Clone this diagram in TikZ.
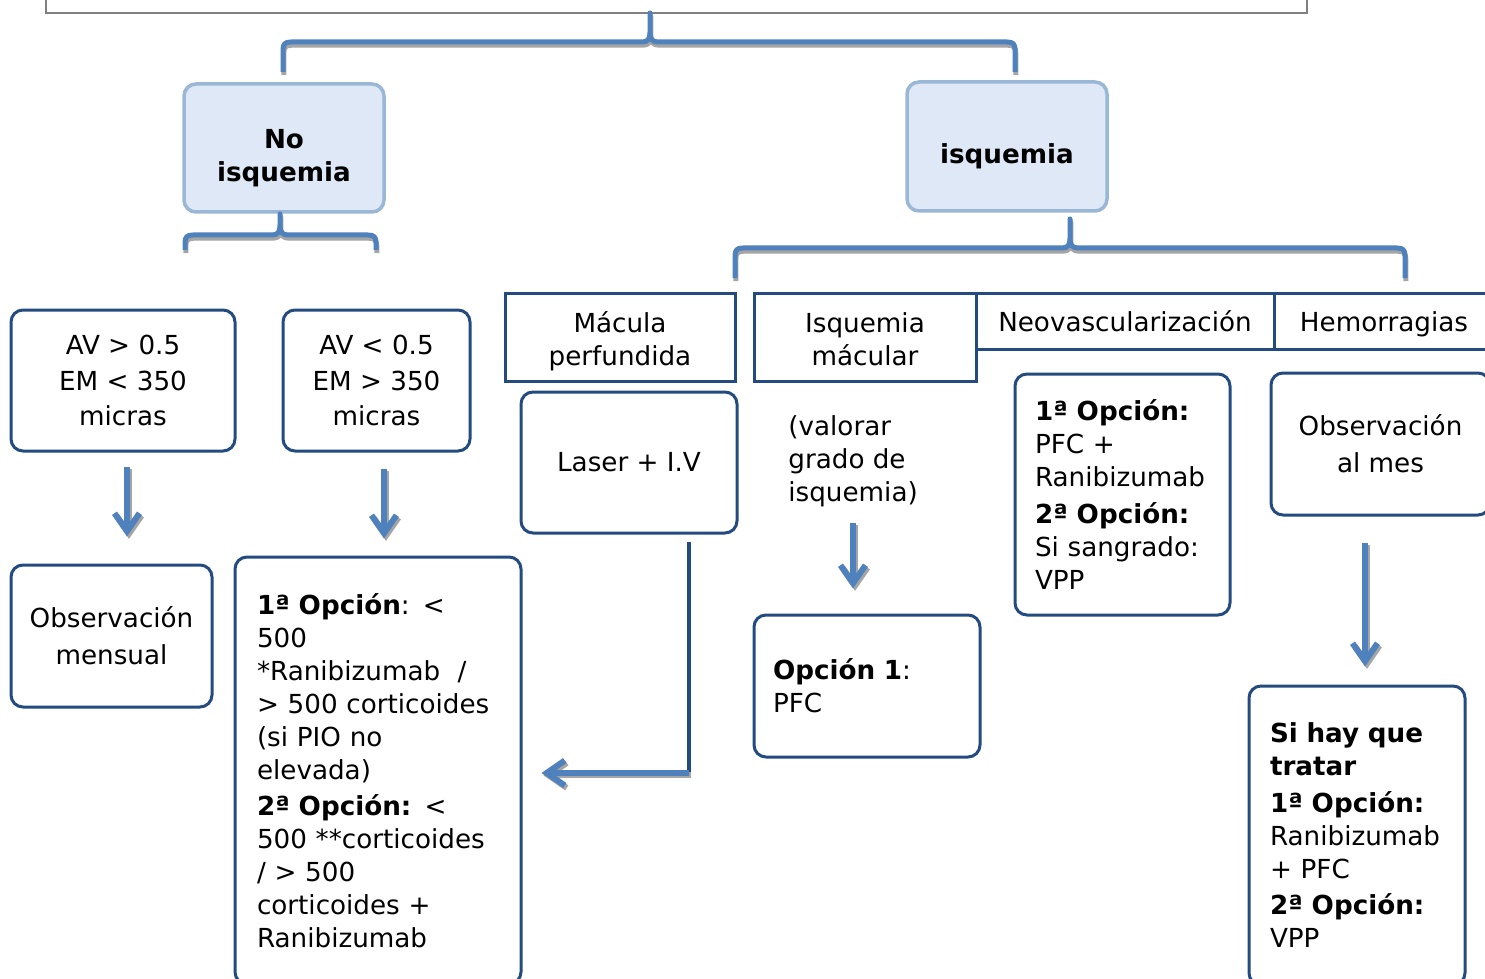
\documentclass[tikz,border=0pt]{standalone}
\usepackage{fontspec}
\setmainfont{DejaVu Sans}
\usetikzlibrary{arrows.meta}
\definecolor{brblue}{RGB}{79,129,189}
\definecolor{shgray}{RGB}{165,165,165}
\definecolor{dkblue}{RGB}{36,75,128}
\definecolor{lbfill}{RGB}{222,232,247}
\definecolor{lbline}{RGB}{155,183,214}
\definecolor{topgray}{RGB}{128,128,128}
\newcommand{\fsa}{\fontsize{13.1}{16.5}\selectfont}
\newcommand{\fsb}{\fontsize{13.1}{17.75}\selectfont}
\newcommand{\fsc}{\fontsize{13.1}{18.5}\selectfont}
\newcommand{\hstrut}[1]{\rule{0pt}{#1}}
% #1 left x, #2 centre x, #3 right x, #4 peak y, #5 bar y, #6 end y
\newcommand{\bracepath}[6]{(#1,#6) -- (#1,#5+8) .. controls (#1,#5+2) and (#1+2,#5) .. (#1+8,#5) -- (#2-8,#5) .. controls (#2-2,#5) and (#2,#5-3) .. (#2,#5-10) -- (#2,#4) -- (#2,#5-10) .. controls (#2,#5-3) and (#2+2,#5) .. (#2+8,#5) -- (#3-8,#5) .. controls (#3-2,#5) and (#3,#5+2) .. (#3,#5+8) -- (#3,#6)}
\tikzset{
  box/.style={draw=dkblue, line width=1.5pt, rounded corners=6pt, align=center, inner sep=0pt, font=\fsa},
  hbox/.style={draw=dkblue, line width=1.5pt, align=center, inner sep=0pt, font=\fsa},
  mainbox/.style={draw=lbline, fill=lbfill, line width=1.75pt, rounded corners=6pt, align=center, inner sep=0pt, font=\fsa\bfseries},
  arr/.style={draw=brblue, line width=3pt, -{Straight Barb[length=9pt,width=12.5pt]}},
  arrsh/.style={arr, draw=shgray, transform canvas={shift={(1pt,-1.2pt)}}},
  bracket/.style={draw=brblue, line width=2.5pt, line join=round},
  bracketsh/.style={draw=shgray, line width=2.5pt, line join=round, transform canvas={shift={(0.4pt,-1.6pt)}}},
  dkline/.style={draw=dkblue, line width=2pt}
}
\begin{document}
\begin{tikzpicture}[x=0.5pt,y=-0.5pt]
\useasboundingbox (0,0) rectangle (1485,979);
% top box
\node[draw=topgray, line width=1pt, minimum width=630.5pt, minimum height=25pt, inner sep=0pt] (top) at (676.5,-12) {};
% main boxes
\node[mainbox, minimum width=100pt, minimum height=64pt] (noisq) at (284,148) {\fontsize{13.1}{17}\selectfont \hstrut{19.6pt}No\\isquemia};
\node[mainbox, minimum width=100pt, minimum height=64.5pt] (isq) at (1007,146.5) {\hstrut{20pt}isquemia};
% braces
\draw[bracketsh] \bracepath{283}{650}{1015}{13}{42}{72};
\draw[bracket] \bracepath{283}{650}{1015}{13}{42}{72};
\draw[bracketsh] \bracepath{185}{280}{376}{214}{235}{250};
\draw[bracket] \bracepath{185}{280}{376}{214}{235}{250};
\draw[bracketsh] \bracepath{735}{1070}{1405}{219}{248}{278};
\draw[bracket] \bracepath{735}{1070}{1405}{219}{248}{278};
% left branch
\node[box, minimum width=112pt, minimum height=70.5pt, font=\fsb] (av1) at (123,380.5) {AV > 0.5\\EM < 350\\micras};
\node[box, minimum width=93.5pt, minimum height=70.5pt, font=\fsb] (av2) at (376.5,380.5) {AV < 0.5\\EM > 350\\micras};
\node[box, minimum width=100.5pt, minimum height=71pt, font=\fsc] (obs1) at (111.5,636) {Observación\\mensual};
\node[box, minimum height=213.5pt, text width=121pt, inner xsep=11pt, align=left] (big) at (378,770.5)
  {\textbf{1ª Opción}: <\\500\\{*}Ranibizumab\ \ /\\> 500 corticoides\\(si PIO no\\elevada)\\[1.75pt]\textbf{2ª Opción:} <\\500 **corticoides\\/ > 500\\corticoides +\\Ranibizumab};
\draw[arrsh] (av1.south) ++(4,14) -- ++(0,70);
\draw[arr] (av1.south) ++(4,14) -- ++(0,70);
\draw[arrsh] (av2.south) ++(7.5,16) -- ++(0,70);
\draw[arr] (av2.south) ++(7.5,16) -- ++(0,70);
% right branch headers
\node[hbox, minimum width=115pt, minimum height=44pt] (mac) at (620,337) {\hstrut{14.5pt}Mácula\\perfundida};
\node[hbox, minimum width=111pt, minimum height=44pt] (isqm) at (865,337) {\hstrut{12pt}Isquemia\\mácular};
\node[hbox, minimum width=149pt, minimum height=28pt] (neo) at (1125,321) {Neovascularización};
\node[hbox, minimum width=110pt, minimum height=28pt] (hem) at (1384,321) {\hstrut{13pt}Hemorragias};
% Macula perfundida column
\node[box, minimum width=108pt, minimum height=70.5pt] (laser) at (629,462.5) {Laser + I.V};
\coordinate (lc) at (689,773);
\draw[dkline] (laser.south -| lc) ++(0,7) -- ([yshift=-1pt]lc);
\draw[arrsh, shorten >=9.5pt] (lc) -- (big.east |- lc);
\draw[arr, shorten >=9.5pt] (lc) -- (big.east |- lc);
% Isquemia macular column
\node[anchor=west, align=left, inner sep=0pt, font=\fsa] (val) at (788,461) {(valorar\\grado de\\isquemia)};
\node[box, minimum height=71pt, text width=94pt, inner xsep=9.5pt, align=left] (op1) at (867,686) {\textbf{Opción 1}:\\PFC};
\draw[arrsh] (op1.north) ++(-14,-91) -- ++(0,66);
\draw[arr] (op1.north) ++(-14,-91) -- ++(0,66);
% Neovascularizacion column
\node[box, minimum height=120.5pt, text width=87.5pt, inner xsep=10pt, align=left] (neoop) at (1122.5,494.5)
  {\textbf{1ª Opción:}\\PFC +\\Ranibizumab\\[1.75pt]\textbf{2ª Opción:}\\Si sangrado:\\VPP\\[-2pt]};
% Hemorragias column
\node[box, minimum width=109.5pt, minimum height=71pt, font=\fsc] (obsmes) at (1380.5,444) {Observación\\al mes};
\node[box, minimum height=149.5pt, text width=87pt, inner xsep=10.5pt, align=left] (sihay) at (1357,835.5)
  {\textbf{Si hay que}\\\textbf{tratar}\\[1.75pt]\textbf{1ª Opción:}\\Ranibizumab\\+ PFC\\[1.75pt]\textbf{2ª Opción:}\\VPP};
\draw[arrsh] (obsmes.south) ++(-15.5,26) -- ++(0,124);
\draw[arr] (obsmes.south) ++(-15.5,26) -- ++(0,124);
\end{tikzpicture}
\end{document}
